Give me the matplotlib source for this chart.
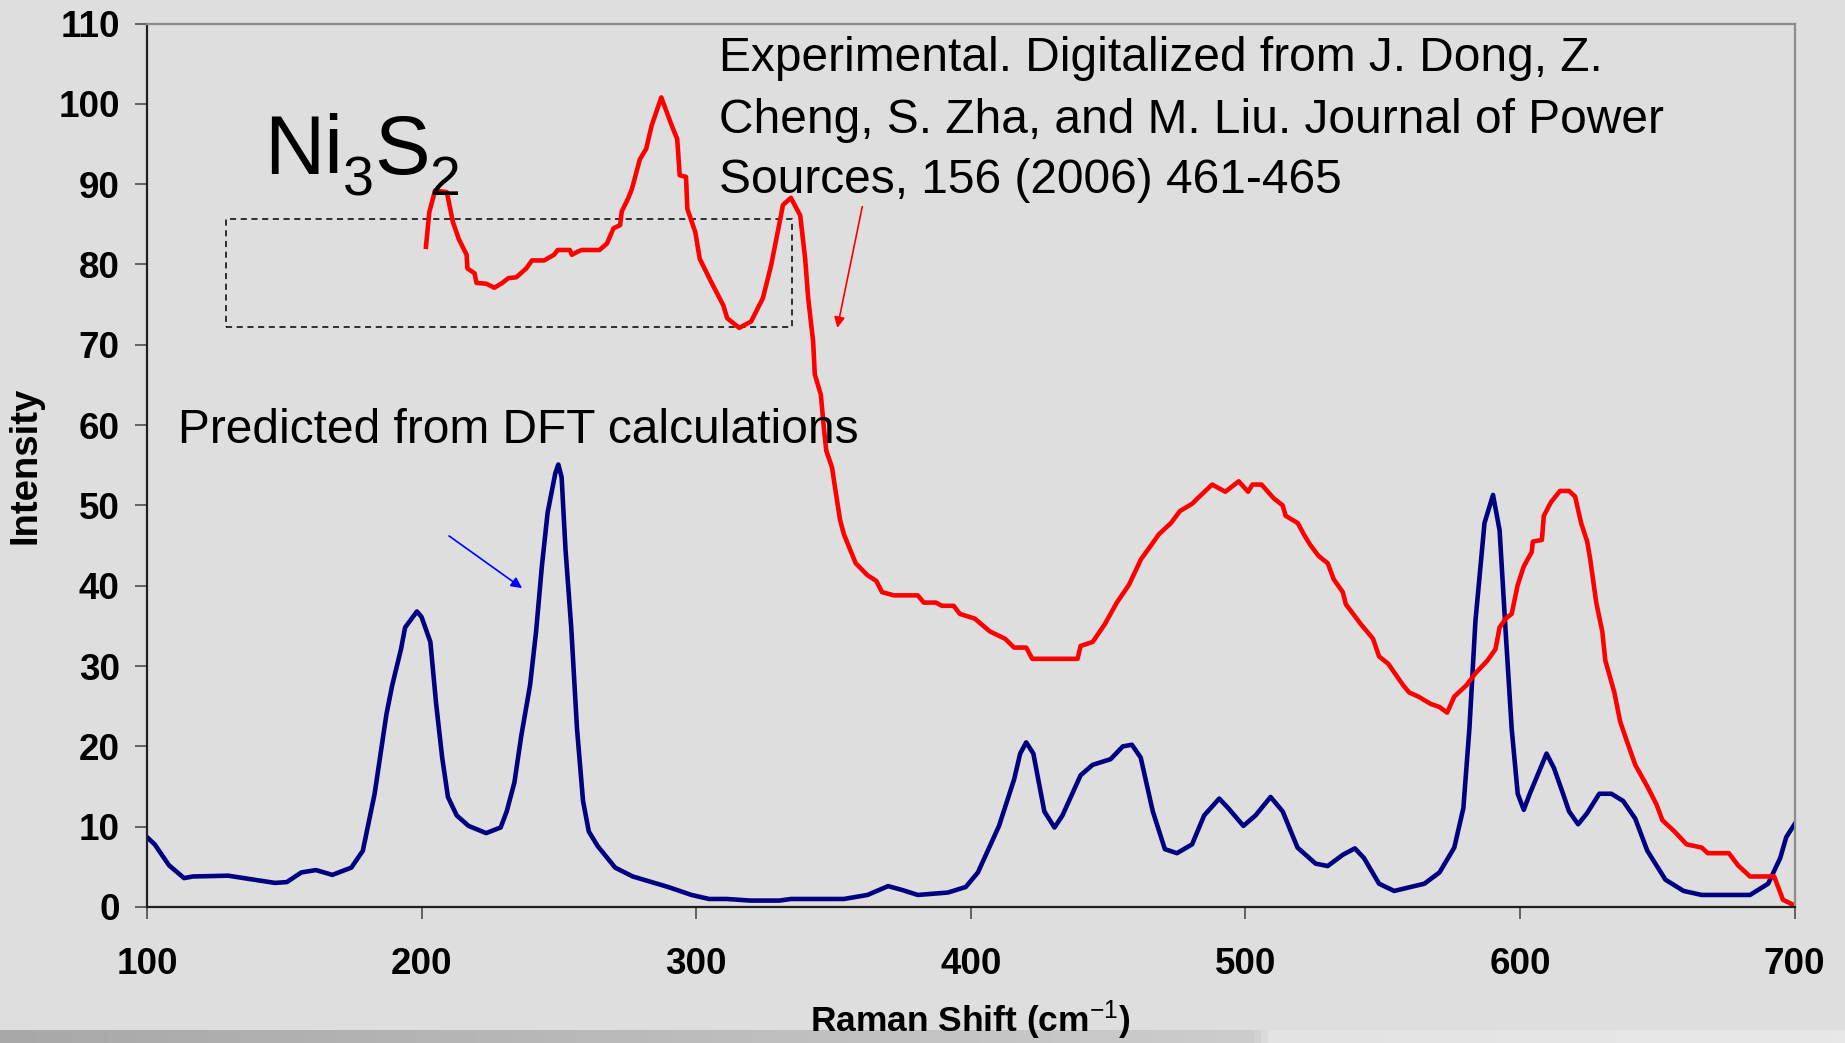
import numpy as np
import matplotlib.pyplot as plt
from matplotlib.colors import LinearSegmentedColormap
from matplotlib.patches import Rectangle
from matplotlib.transforms import offset_copy

plt.rcParams['font.family'] = ['Liberation Sans', 'DejaVu Sans']
plt.rcParams['mathtext.fontset'] = 'custom'
plt.rcParams['mathtext.rm'] = 'Liberation Sans'
plt.rcParams['mathtext.it'] = 'Liberation Sans'
plt.rcParams['mathtext.bf'] = 'Liberation Sans:bold'

# DFT prediction (Raman shift, intensity)
dft_x = [100, 102.8, 108, 113.5, 116.7, 129.5, 146.6, 150.9, 156.2, 161.5, 167.5, 174.4,
         178.6, 182.9, 187.2, 189.3, 192.5, 194.0, 198.3, 200, 203.2, 205.3, 207.5, 209.6,
         212.8, 217.1, 223.5, 228.8, 231, 233.8, 236.3, 239.5, 241.7, 243.8, 245.9, 248.7,
         249.8, 251.0, 252.4, 254.5, 256.6, 258.8, 260.9, 264.1, 270.5, 276.9, 289.7, 298.3,
         304.7, 311.1, 319.7, 330.3, 334.6, 353.8, 362.4, 369.9, 375.2, 380.7, 391.7, 398.2,
         402.6, 410.3, 415.8, 418.0, 420.2, 422.8, 426.8, 430.5, 433.4, 440.0, 444.4, 450.9,
         455.4, 458.7, 461.9, 466.3, 470.7, 475.1, 480.6, 485.0, 490.5, 493.8, 499.3, 503.7,
         509.2, 513.6, 519.0, 525.6, 530.0, 535.5, 539.9, 543.2, 548.7, 554.2, 565.2, 570.7,
         576.1, 579.4, 581.6, 583.8, 587.1, 590.2, 592.6, 594.8, 597.0, 599.2, 601.4, 603.6,
         606.9, 609.7, 612.4, 615.7, 617.9, 621.2, 624.5, 628.9, 633.3, 637.6, 642.0, 646.4,
         653.0, 659.6, 666.2, 683.8, 690.4, 694.8, 697.0, 700]
dft_y = [8.7, 7.8, 5.2, 3.6, 3.8, 3.9, 3.0, 3.1, 4.3, 4.6, 4.0, 4.9,
         7.0, 14.1, 24.0, 27.6, 32.1, 34.8, 36.8, 36.1, 33.0, 25.3, 18.6, 13.7,
         11.4, 10.1, 9.2, 9.9, 11.9, 15.5, 21.3, 27.6, 34.3, 42.4, 49.1, 54.0,
         55.1, 53.5, 44.6, 34.8, 22.2, 13.2, 9.4, 7.6, 4.9, 3.8, 2.5, 1.5,
         1.0, 1.0, 0.8, 0.8, 1.0, 1.0, 1.5, 2.6, 2.1, 1.5, 1.8, 2.5,
         4.3, 10.1, 15.9, 19.1, 20.5, 19.1, 11.9, 9.9, 11.4, 16.4, 17.7, 18.4,
         20.0, 20.2, 18.6, 11.9, 7.2, 6.7, 7.8, 11.4, 13.5, 12.3, 10.1, 11.4,
         13.7, 11.9, 7.4, 5.4, 5.1, 6.5, 7.3, 6.1, 2.9, 2.0, 2.9, 4.3,
         7.4, 12.3, 22.2, 35.6, 47.8, 51.3, 46.9, 34.3, 22.2, 14.1, 12.1, 14.1,
         16.8, 19.1, 17.3, 14.1, 11.9, 10.3, 11.7, 14.1, 14.1, 13.2, 11.0, 7.0,
         3.4, 2.0, 1.5, 1.5, 2.9, 6.1, 8.7, 10.3]

# experimental spectrum (Dong et al. 2006)
exp_x = [201.6, 202.8, 204.9, 207.0, 209.2, 211.4, 213.5, 216.4, 216.7, 219.3, 220.0, 223.6,
         226.5, 229.4, 231.6, 234.5, 238.1, 240.2, 244.6, 248.2, 249.6, 254.0, 254.7, 256.9,
         258.3, 264.8, 267.5, 269.9, 272.3, 272.9, 275.2, 276.6, 279.5, 281.8, 283.8, 287.3,
         291.1, 293.1, 294.0, 296.3, 296.8, 299.7, 301.3, 305.5, 309.9, 311.3, 315.7, 320.0,
         324.3, 327.3, 330.2, 331.6, 334.5, 337.9, 339.7, 340.8, 342.6, 343.2, 345.4, 346.6,
         347.4, 349.5, 350.4, 352.4, 353.8, 358.1, 362.4, 365.6, 367.7, 372.0, 380.7, 382.9,
         387.3, 389.5, 393.8, 396.0, 401.5, 407.0, 412.5, 415.8, 420.2, 422.4, 438.9, 440.0,
         444.4, 448.8, 453.2, 457.6, 462.0, 465.2, 468.5, 472.9, 476.2, 480.6, 483.9, 487.9,
         492.7, 497.6, 501.0, 502.6, 505.9, 510.3, 513.6, 514.7, 519.1, 521.3, 523.6, 526.7,
         530.0, 532.2, 535.5, 536.6, 542.1, 546.5, 548.7, 552.0, 557.5, 559.7, 563.0, 567.4,
         570.7, 573.5, 576.1, 580.5, 583.8, 588.2, 591.1, 592.6, 594.8, 597.0, 599.2, 601.4,
         604.3, 604.7, 608.0, 608.7, 611.3, 614.6, 617.9, 620.1, 622.3, 624.5, 625.6, 627.8,
         630.0, 631.1, 634.4, 636.5, 638.7, 642.0, 646.4, 649.7, 651.9, 656.3, 660.7, 666.2,
         668.4, 676.1, 679.4, 683.8, 692.6, 695.8, 700.0]
exp_y = [82.2, 86.5, 89.2, 89.1, 89.0, 85.3, 83.2, 81.2, 79.5, 78.9, 77.7, 77.6,
         77.1, 77.7, 78.3, 78.4, 79.5, 80.5, 80.5, 81.2, 81.8, 81.8, 81.2, 81.6,
         81.8, 81.8, 82.6, 84.5, 84.9, 86.6, 88.2, 89.4, 93.1, 94.4, 97.3, 100.8,
         97.3, 95.6, 91.1, 90.9, 86.9, 84.0, 80.7, 77.8, 74.9, 73.3, 72.1, 72.9,
         75.8, 79.9, 84.9, 87.4, 88.3, 86.1, 80.7, 75.8, 70.4, 66.3, 63.8, 59.3,
         56.8, 54.7, 52.6, 48.2, 46.4, 42.8, 41.3, 40.6, 39.2, 38.8, 38.8, 37.9,
         37.9, 37.5, 37.5, 36.5, 35.9, 34.3, 33.4, 32.3, 32.3, 30.9, 30.9, 32.5,
         33.0, 35.2, 37.9, 40.1, 43.3, 44.8, 46.4, 47.8, 49.3, 50.2, 51.3, 52.6,
         51.7, 53.0, 51.7, 52.6, 52.6, 50.9, 50.0, 48.7, 47.8, 46.4, 45.1, 43.7,
         42.8, 40.8, 39.2, 37.7, 35.2, 33.4, 31.2, 30.3, 27.6, 26.7, 26.2, 25.3,
         24.9, 24.2, 26.2, 27.6, 29.1, 30.7, 32.1, 34.8, 35.9, 36.5, 40.1, 42.4,
         44.2, 45.5, 45.7, 48.7, 50.4, 51.8, 51.8, 51.1, 47.8, 45.5, 43.3, 37.9,
         34.3, 30.7, 26.7, 23.1, 20.9, 17.7, 15.0, 12.8, 10.8, 9.4, 7.8, 7.4,
         6.7, 6.7, 5.2, 3.8, 3.8, 0.9, 0.2]

x_ticks = [100, 200, 300, 400, 500, 600, 700]
y_ticks = [0, 10, 20, 30, 40, 50, 60, 70, 80, 90, 100, 110]

exp_ref = ['Experimental. Digitalized from J. Dong, Z.',
           'Cheng, S. Zha, and M. Liu. Journal of Power',
           'Sources, 156 (2006) 461-465']
# formula pieces: (text, is_subscript)
formula = [('Ni', False), ('3', True), ('S', False), ('2', True)]

bg = '#dedede'
W, H = 1845, 1043
fig = plt.figure(figsize=(W / 100, H / 100), dpi=100, facecolor=bg)

# grey band along the bottom edge
band = fig.add_axes([0, 0, 1, 13 / H], zorder=-1)
band_cmap = LinearSegmentedColormap.from_list(
    'band', [(0, '#a8a8a8'), (0.68, '#cdcdcd'), (0.69, '#e3e3e3'), (1, '#e8e8e8')])
band.imshow(np.linspace(0, 1, 512)[None, :], cmap=band_cmap, aspect='auto')
band.axis('off')

ax = fig.add_axes([147 / W, 136 / H, (1794.5 - 147) / W, (907 - 23.5) / H])
ax.set_facecolor(bg)

ax.plot(dft_x, dft_y, color='#000080', lw=3.3, solid_joinstyle='round')
ax.plot(exp_x, exp_y, color='#ff0000', lw=3.3, solid_joinstyle='round')

# box around the low-frequency experimental features
ax.add_patch(Rectangle((128.8, 72.2), 335 - 128.8, 85.7 - 72.2, fill=False,
                       ec='black', lw=1.1, ls=(0, (4, 3))))

# Ni3S2 written piece by piece so the subscripts sit low
renderer = fig.canvas.get_renderer()
xoff = 0
for s, sub in formula:
    tr = offset_copy(ax.transData, fig=fig, x=xoff, y=-21 if sub else 0, units='dots')
    t = ax.text(142.6, 91.2, s, fontsize=40 if sub else 60, va='baseline', transform=tr)
    xoff += t.get_window_extent(renderer=renderer).width

for line, yb in zip(exp_ref, [104.1, 96.4, 88.9]):
    ax.text(308.4, yb, line, fontsize=34.5, va='baseline')
ax.text(111.3, 57.8, 'Predicted from DFT calculations', fontsize=34.5, va='baseline')

ax.annotate('', xy=(351.4, 72.1), xytext=(360.5, 87.2),
            arrowprops=dict(arrowstyle='-|>', color='#ff0000', lw=1.2,
                            mutation_scale=16, shrinkA=0, shrinkB=0))
ax.annotate('', xy=(236.6, 39.7), xytext=(210.0, 46.2),
            arrowprops=dict(arrowstyle='-|>', color='#0000ff', lw=1.2,
                            mutation_scale=16, shrinkA=0, shrinkB=0))

ax.set_xlim(100, 700)
ax.set_ylim(0, 110)
ax.set_xticks(x_ticks)
ax.set_yticks(y_ticks)
ax.tick_params(axis='both', direction='out', length=8.6, width=1.1,
               color='#404040', labelsize=26.5)
ax.tick_params(axis='x', pad=20)
ax.tick_params(axis='y', pad=11)
for lbl in ax.get_xticklabels() + ax.get_yticklabels():
    lbl.set_fontweight('bold')

for side in ['left', 'bottom']:
    ax.spines[side].set_color('#202020')
    ax.spines[side].set_linewidth(1.6)
for side in ['top', 'right']:
    ax.spines[side].set_color('#8c8c8c')
    ax.spines[side].set_linewidth(1.6)

ax.set_ylabel('Intensity', fontsize=27.5, fontweight='bold')
ax.yaxis.set_label_coords(-0.063, 0.5)
ax.set_xlabel(r'Raman Shift (cm$^{\mathrm{-1}}$)', fontsize=25.5, fontweight='bold')
ax.xaxis.set_label_coords(0.5, -0.1415)
ax.xaxis.label.set_verticalalignment('baseline')

fig.savefig('out.png', dpi=100, facecolor=bg)
